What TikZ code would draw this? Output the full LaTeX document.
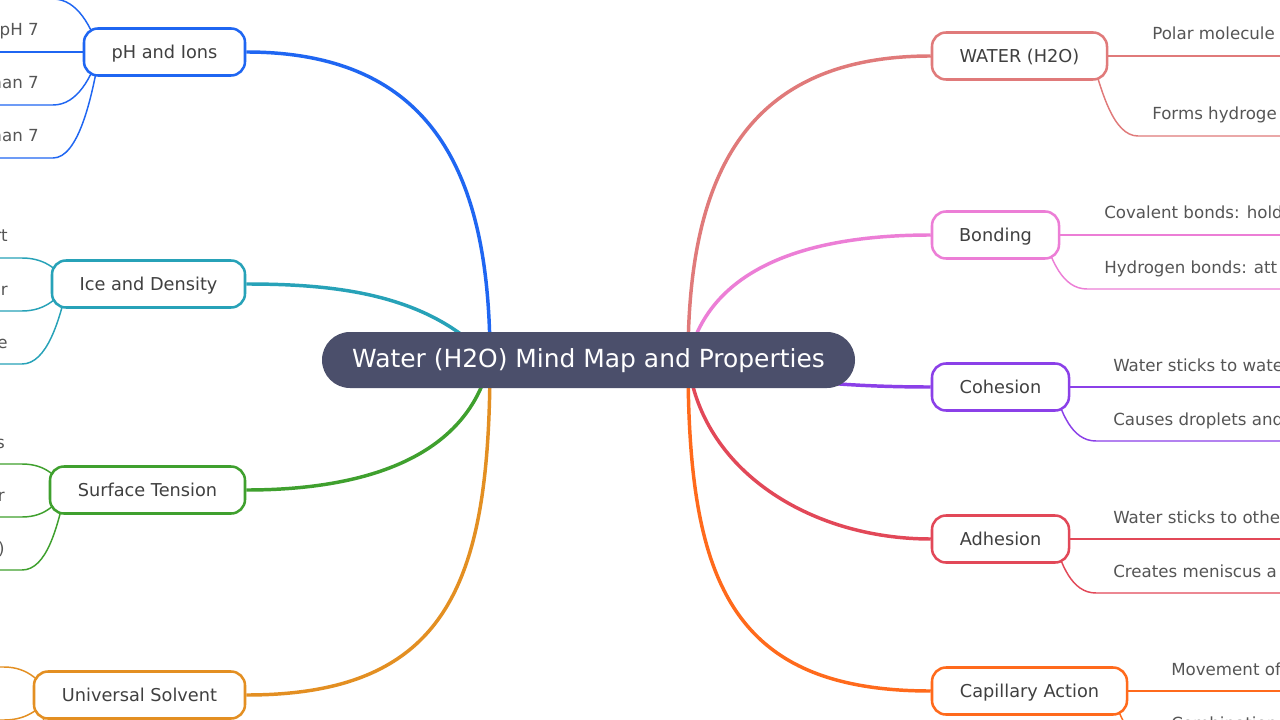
\documentclass[tikz,border=0pt]{standalone}
\usepackage{fontspec}
\setmainfont{DejaVu Sans}
\usetikzlibrary{backgrounds}
\definecolor{cBlue}{HTML}{1F66F2}
\definecolor{cTeal}{HTML}{27A2B8}
\definecolor{cGreen}{HTML}{3FA02E}
\definecolor{cOrange}{HTML}{E38F22}
\definecolor{cSalmon}{HTML}{E07A7A}
\definecolor{cPink}{HTML}{EC7ED6}
\definecolor{cPurple}{HTML}{8B40E8}
\definecolor{cRed}{HTML}{E24858}
\definecolor{cCap}{HTML}{FF6A1C}
\definecolor{cCenter}{HTML}{4B4F6B}
\definecolor{txt}{HTML}{404040}
\definecolor{leaftxt}{HTML}{555555}
\begin{document}
\begin{tikzpicture}[x=0.75pt,y=-0.75pt,
  topic/.style={draw=#1, line width=1.9pt, fill=white, rounded corners=10.5pt,
    minimum height=35.25pt, inner sep=0pt, text=txt,
    font=\fontsize{13.3}{16}\selectfont, text height=1.17em, text depth=0.22em},
  root/.style={fill=cCenter, rounded corners=21pt, minimum width=399.75pt,
    minimum height=42pt, inner sep=0pt, text=white,
    font=\fontsize{18.7}{22}\selectfont, text height=1.4em, text depth=0.22em},
  leaftext/.style={text=leaftxt, inner sep=0pt, font=\fontsize{12.5}{15}\selectfont},
  mainlink/.style={draw=#1, line width=2.6pt},
  leaflink/.style={draw=#1, line width=1.1pt}]
\useasboundingbox (0,0) rectangle (1280,720);
\clip (0,0) rectangle (1280,720);

% central node
\node[root] (root) at (588.5,360) {Water (H2O) Mind Map and Properties};
\coordinate (cL) at (490,360);
\coordinate (cR) at (688,360);

% left topics
\node[topic=cBlue,   minimum width=120.75pt] (ph)   at (164.5,52)  {pH and Ions};
\node[topic=cTeal,   minimum width=144.75pt] (ice)  at (148.5,284) {Ice and Density};
\node[topic=cGreen,  minimum width=146.25pt] (surf) at (147.5,490) {Surface Tension};
\node[topic=cOrange, minimum width=158.25pt] (univ) at (139.5,695) {Universal Solvent};

% right topics
\node[topic=cSalmon, minimum width=131.25pt] (wat)  at (1019.5,56)  {WATER (H2O)};
\node[topic=cPink,   minimum width=95.25pt]  (bond) at (995.5,235)  {Bonding};
\node[topic=cPurple, minimum width=102.75pt] (coh)  at (1000.5,387) {Cohesion};
\node[topic=cRed,    minimum width=102.75pt] (adh)  at (1000.5,539) {Adhesion};
\node[topic=cCap,    minimum width=146.25pt] (cap)  at (1029.5,691) {Capillary Action};

% leaf end coordinates (left)
\coordinate (ph1) at (53,-1);   \coordinate (ph3) at (53,105);  \coordinate (ph4) at (53,158);
\coordinate (ice1) at (22,258); \coordinate (ice2) at (22,311); \coordinate (ice3) at (22,364);
\coordinate (surf1) at (22,464);\coordinate (surf2) at (22,517);\coordinate (surf3) at (22,570);
\coordinate (univ1) at (4,667); \coordinate (univ2) at (4,720); \coordinate (univ3) at (4,773);
% leaf end coordinates (right)
\coordinate (wat2) at (1138,136);
\coordinate (bond2) at (1087,289);
\coordinate (coh2) at (1096,441);
\coordinate (adh2) at (1096,593);
\coordinate (cap2) at (1155,745);

\begin{scope}[on background layer]
  \fill[white] (0,0) rectangle (1280,720);
  \clip (0,0) rectangle (1280,720);
  % main links
  \draw[mainlink=cBlue]   (ph.east)   .. controls (440,52)  and (490,184) .. (cL);
  \draw[mainlink=cTeal]   (ice.east)  .. controls (340,284) and (430,295) .. (cL);
  \draw[mainlink=cGreen]  (surf.east) .. controls (360,490) and (468,460) .. (cL);
  \draw[mainlink=cOrange] (univ.east) .. controls (450,695) and (490,580) .. (cL);
  \draw[mainlink=cSalmon] (wat.west)  .. controls (738,56)  and (688,186) .. (cR);
  \draw[mainlink=cPink]   (bond.west) .. controls (818,235) and (710,262) .. (cR);
  \draw[mainlink=cPurple] (coh.west)  .. controls (800,387) and (720,370) .. (cR);
  \draw[mainlink=cRed]    (adh.west)  .. controls (810,539) and (700,470) .. (cR);
  \draw[mainlink=cCap]    (cap.west)  .. controls (728,691) and (688,577) .. (cR);
  % left leaf links
  \draw[leaflink=cBlue] ([xshift=12.75pt]ph.west) .. controls +(-8,-24) and +(25,0) .. (ph1) -- (-10,-1);
  \draw[leaflink=cBlue] (ph.west) -- (-10,52);
  \draw[leaflink=cBlue] ([xshift=12.75pt]ph.west) .. controls +(-8,24) and +(25,0) .. (ph3) -- (-10,105);
  \draw[leaflink=cBlue] ([xshift=12.75pt]ph.west) .. controls +(-8,48) and +(25,0) .. (ph4) -- (-10,158);
  \draw[leaflink=cTeal] ([xshift=12.75pt]ice.west) .. controls +(-8,-12) and +(25,0) .. (ice1) -- (-10,258);
  \draw[leaflink=cTeal] ([xshift=12.75pt]ice.west) .. controls +(-8,12) and +(25,0) .. (ice2) -- (-10,311);
  \draw[leaflink=cTeal] ([xshift=12.75pt]ice.west) .. controls +(-8,36) and +(25,0) .. (ice3) -- (-10,364);
  \draw[leaflink=cGreen] ([xshift=12.75pt]surf.west) .. controls +(-8,-12) and +(25,0) .. (surf1) -- (-10,464);
  \draw[leaflink=cGreen] ([xshift=12.75pt]surf.west) .. controls +(-8,12) and +(25,0) .. (surf2) -- (-10,517);
  \draw[leaflink=cGreen] ([xshift=12.75pt]surf.west) .. controls +(-8,36) and +(25,0) .. (surf3) -- (-10,570);
  \draw[leaflink=cOrange] ([xshift=12.75pt]univ.west) .. controls +(-8,-12) and +(25,0) .. (univ1) -- (-10,667);
  \draw[leaflink=cOrange] ([xshift=12.75pt]univ.west) .. controls +(-8,12) and +(25,0) .. (univ2) -- (-10,720);
  \draw[leaflink=cOrange] ([xshift=12.75pt]univ.west) .. controls +(-8,36) and +(25,0) .. (univ3) -- (-10,773);
  % right leaf links
  \draw[leaflink=cSalmon] (wat.east) -- (1290,56);
  \draw[leaflink=cSalmon] ([xshift=-12.75pt]wat.east) .. controls +(10,34) and +(-25,0) .. (wat2) -- (1290,136);
  \draw[leaflink=cPink] (bond.east) -- (1290,235);
  \draw[leaflink=cPink] ([xshift=-12.75pt]bond.east) .. controls +(8,24) and +(-25,0) .. (bond2) -- (1290,289);
  \draw[leaflink=cPurple] (coh.east) -- (1290,387);
  \draw[leaflink=cPurple] ([xshift=-12.75pt]coh.east) .. controls +(8,24) and +(-25,0) .. (coh2) -- (1290,441);
  \draw[leaflink=cRed] (adh.east) -- (1290,539);
  \draw[leaflink=cRed] ([xshift=-12.75pt]adh.east) .. controls +(8,24) and +(-25,0) .. (adh2) -- (1290,593);
  \draw[leaflink=cCap] (cap.east) -- (1290,691);
  \draw[leaflink=cCap] ([xshift=-12.75pt]cap.east) .. controls +(8,24) and +(-25,0) .. (cap2) -- (1290,745);
\end{scope}

% left leaf texts
\node[leaftext, anchor=base east] (ph2t) at (39,36)  {pH 7};
\node[leaftext, anchor=base east] (ph3t) at (39,89)  {han 7};
\node[leaftext, anchor=base east] (ph4t) at (39,142) {han 7};
\node[leaftext, anchor=base east] (ice1t) at (8,242) {rt};
\node[leaftext, anchor=base east] (ice2t) at (8,295) {er};
\node[leaftext, anchor=base east] (ice3t) at (8,348) {e};
\node[leaftext, anchor=base east] (surf1t) at (5,448) {s};
\node[leaftext, anchor=base east] (surf2t) at (5,501) {r};
\node[leaftext, anchor=base east] (surf3t) at (5,554) {)};

% right leaf texts
\node[leaftext, anchor=base west] (wat1t) at (1152,40)  {Polar molecule};
\node[leaftext, anchor=base west] (wat2t) at (1152,120) {Forms hydroge};
\node[leaftext, anchor=base west] (bond1t) at (1104,219) {Covalent bonds: hold};
\node[leaftext, anchor=base west] (bond2t) at (1104,273) {Hydrogen bonds: att};
\node[leaftext, anchor=base west] (coh1t) at (1113,371) {Water sticks to wate};
\node[leaftext, anchor=base west] (coh2t) at (1113,425) {Causes droplets and};
\node[leaftext, anchor=base west] (adh1t) at (1113,523) {Water sticks to othe};
\node[leaftext, anchor=base west] (adh2t) at (1113,577) {Creates meniscus a};
\node[leaftext, anchor=base west] (cap1t) at (1171,675) {Movement of};
\node[leaftext, anchor=base west] (cap2t) at (1171,729) {Combination};
\end{tikzpicture}
\end{document}
